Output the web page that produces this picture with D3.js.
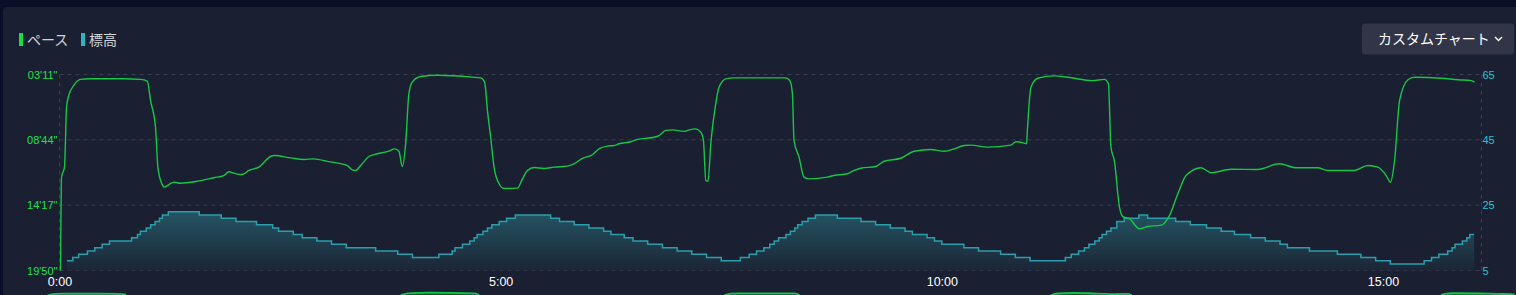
<!DOCTYPE html>
<html>
<head>
<meta charset="utf-8">
<script src="https://cdn.jsdelivr.net/npm/d3@7/dist/d3.min.js"></script>
<style>
  html, body { margin: 0; padding: 0; background: #0a0f27; }
  svg { display: block; font-family: "Noto Sans CJK JP", "Noto Sans", sans-serif; }
</style>
</head>
<body>
<svg id="chart" width="1516" height="295"></svg>
<script>
// legend / button text
var legendLabels = ["ペース", "標高"];
var buttonLabel = "カスタムチャート";

// pace line: elapsed seconds / pace (seconds per km)
var paceTime = [0.7, 1.4, 3.4, 4.8, 6.3, 9.7, 14.3, 21.1, 43.5, 55.1, 59.7, 61.9, 65.3, 66.9, 69.2, 71.4, 74.4, 77.8, 82.3, 93.7,
  105, 111.8, 115.2, 118.6, 123.1, 125.4, 128.8, 135.6, 143.5, 145.8, 157.2, 166.2, 173, 182.1, 195.7, 199.1, 201.4, 204.8, 210.4, 216.1,
  224, 227.9, 230.8, 233.1, 235.4, 237.6, 239.9, 245.6, 256.9, 286.4, 289.1, 291, 293.2, 295.5, 298.9, 302.3, 311.4, 314.8, 318.2, 322.7,
  329.5, 336.3, 345.4, 349.9, 355.6, 362.4, 366.9, 372.6, 377.1, 380.5, 388.5, 393, 404.3, 407.7, 412.3, 416.8, 424.7, 427, 432.7, 436.1,
  437.9, 439.5, 441, 442.9, 445.6, 448.5, 453.1, 458.7, 493.9, 496.8, 498.4, 499.5, 502.9, 506.3, 509.7, 522.2, 526.7, 535.8, 540.4, 544.9,
  555.1, 560.8, 572.1, 581.2, 592.5, 601.6, 608.4, 615.2, 619.7, 631.1, 646.9, 650.4, 654.9, 657.6, 658.3, 660.6, 665.2, 676.5, 685.6, 702.6,
  710.5, 713.3, 715, 717.3, 720.8, 723.1, 727.6, 734.4, 740.1, 749.2, 754.8, 760.5, 766.1, 776.3, 783.1, 796.7, 814.8, 829.5, 840.9, 855.6,
  862.4, 880.6, 889.7, 896.5, 902.2, 905.1, 907.9, 911.3, 917, 921.5, 939.7, 951.1, 960.1, 962.3];
var paceValue = [1190, 714, 663, 358, 298, 247, 216, 213, 213, 216, 225, 323, 460, 663, 740, 765, 752, 740, 745, 735,
  717, 706, 687, 694, 701, 697, 680, 663, 609, 604, 616, 624, 621, 634, 655, 677, 680, 655, 609, 595,
  582, 570, 582, 660, 544, 289, 230, 201, 195, 208, 230, 374, 511, 663, 748, 772, 770, 723, 680, 665,
  670, 663, 658, 646, 618, 600, 570, 556, 553, 544, 534, 522, 511, 502, 476, 473, 481, 476, 468, 485,
  527, 731, 735, 544, 374, 256, 213, 208, 208, 225, 289, 527, 612, 714, 723, 714, 706, 697, 680, 669,
  660, 633, 618, 582, 573, 582, 570, 553, 551, 561, 551, 534, 538, 544, 460, 256, 210, 198, 205, 222,
  216, 238, 561, 629, 867, 915, 926, 977, 966, 959, 910, 799, 706, 666, 692, 674, 675, 646, 666, 666,
  680, 680, 655, 663, 706, 740, 629, 323, 218, 205, 210, 218, 222, 230];

// elevation steps: start second / metres
var elevTime = [5, 9, 13, 19, 24, 29, 34, 49, 53, 55, 59, 62, 65, 68, 70, 74, 95, 110, 120, 134,
  145, 149, 159, 165, 175, 185, 195, 215, 230, 240, 258, 267, 269, 274, 279, 282, 284, 288, 291, 294,
  299, 304, 310, 334, 340, 350, 360, 370, 375, 384, 390, 400, 410, 420, 430, 440, 450, 463, 469, 474,
  479, 483, 486, 489, 494, 497, 500, 502, 505, 509, 514, 529, 545, 555, 565, 575, 580, 590, 595, 600,
  615, 625, 640, 650, 660, 684, 688, 693, 697, 700, 704, 707, 709, 712, 715, 719, 724, 734, 740, 759,
  769, 780, 790, 799, 810, 820, 830, 835, 850, 869, 885, 895, 905, 928, 933, 938, 944, 947, 949, 954,
  957, 959, 962];
var elevValue = [8, 9, 10, 11, 12, 13, 14, 15, 16, 17, 18, 19, 20, 21, 22, 23, 22, 21, 20, 19,
  18, 17, 16, 15, 14, 13, 12, 11, 10, 9, 10, 11, 12, 13, 14, 15, 16, 17, 18, 19,
  20, 21, 22, 21, 20, 19, 18, 17, 16, 15, 14, 13, 12, 11, 10, 9, 8, 9, 10, 11,
  12, 13, 14, 15, 16, 17, 18, 19, 20, 21, 22, 21, 20, 19, 18, 17, 16, 15, 14, 13,
  12, 11, 10, 9, 8, 9, 10, 11, 12, 13, 14, 15, 16, 17, 18, 20, 21, 22, 21, 20,
  19, 18, 17, 16, 15, 14, 13, 12, 11, 10, 9, 8, 7, 8, 9, 10, 11, 12, 13, 14,
  15, 16, 16];

// axes
var paceTicks = [191, 524, 857, 1190];
var elevTicks = [5, 25, 45, 65];
var timeTicks = [0, 300, 600, 900];
var timeMax = 967;

var paceData = paceTime.map(function(t, i) { return {t: t, v: paceValue[i]}; });
var elevData = elevTime.map(function(t, i) { return {t: t, v: elevValue[i]}; });

var svg = d3.select("#chart");
var plotLeft = 59.5, plotRight = 1481.5, plotTop = 74.5, plotBottom = 270.5;

var x = d3.scaleLinear().domain([0, timeMax]).range([plotLeft, plotRight]);
var yPace = d3.scaleLinear().domain([191, 1190]).range([plotTop, plotBottom]);
var yElev = d3.scaleLinear().domain([5, 65]).range([plotBottom, plotTop]);

function fmtPace(s) {
  var m = Math.floor(s / 60), ss = Math.round(s % 60);
  return d3.format("02")(m) + "'" + d3.format("02")(ss) + '"';
}
function fmtTime(s) {
  return Math.floor(s / 60) + ":" + d3.format("02")(s % 60);
}

// panel
svg.append("rect").attr("x", 3).attr("y", 7).attr("width", 1530).attr("height", 300)
  .attr("rx", 4).attr("fill", "#1a1f31");

var defs = svg.append("defs");
var grad = defs.append("linearGradient").attr("id", "elevGrad")
  .attr("gradientUnits", "userSpaceOnUse")
  .attr("x1", 0).attr("x2", 0).attr("y1", yElev(23)).attr("y2", plotBottom);
grad.append("stop").attr("offset", "0").attr("stop-color", "#245563");
grad.append("stop").attr("offset", "1").attr("stop-color", "#1c2536");

// gridlines
svg.append("g").selectAll("line")
  .data(paceTicks)
  .enter().append("line")
    .attr("x1", plotLeft).attr("x2", plotRight)
    .attr("y1", function(d) { return yPace(d); })
    .attr("y2", function(d) { return yPace(d); })
    .attr("stroke", "#383d4f").attr("stroke-width", 1)
    .attr("stroke-dasharray", "4,4");

// left / right dotted axis lines
[plotLeft, plotRight].forEach(function(px) {
  svg.append("line").attr("x1", px).attr("x2", px).attr("y1", plotTop).attr("y2", plotBottom)
    .attr("stroke", "#383d4f").attr("stroke-width", 1).attr("stroke-dasharray", "4,4");
});

// elevation area + line
var elevArea = d3.area().curve(d3.curveStepAfter)
  .x(function(d) { return x(d.t); })
  .y0(plotBottom)
  .y1(function(d) { return yElev(d.v); });
var elevLine = d3.line().curve(d3.curveStepAfter)
  .x(function(d) { return x(d.t); })
  .y(function(d) { return yElev(d.v); });

svg.append("path").datum(elevData).attr("d", elevArea).attr("fill", "url(#elevGrad)");
svg.append("path").datum(elevData).attr("d", elevLine)
  .attr("fill", "none").attr("stroke", "#2a9eab").attr("stroke-width", 1.5);

// pace line
var paceLine = d3.line().curve(d3.curveMonotoneX)
  .x(function(d) { return x(d.t); })
  .y(function(d) { return yPace(d.v); });
svg.append("path").datum(paceData).attr("d", paceLine)
  .attr("fill", "none").attr("stroke", "#14c846").attr("stroke-width", 1.4);

// left axis (pace)
svg.append("g").attr("transform", "translate(" + (plotLeft - 2) + ",0)")
  .call(d3.axisLeft(yPace).tickValues(paceTicks).tickFormat(fmtPace).tickSize(0).tickPadding(0))
  .call(function(g) { g.select(".domain").remove(); })
  .selectAll("text")
    .attr("fill", "#19e04d").style("font-size", "11px");

// right axis (elevation)
svg.append("g").attr("transform", "translate(" + (plotRight + 1) + ",0)")
  .call(d3.axisRight(yElev).tickValues(elevTicks).tickSize(0).tickPadding(0))
  .call(function(g) { g.select(".domain").remove(); })
  .selectAll("text")
    .attr("fill", "#2cc2cf").style("font-size", "11px");

// x axis
svg.append("g").attr("transform", "translate(0," + (plotBottom + 1) + ")")
  .call(d3.axisBottom(x).tickValues(timeTicks).tickFormat(fmtTime).tickSize(0).tickPadding(6))
  .call(function(g) { g.select(".domain").remove(); })
  .selectAll("text")
    .attr("fill", "#ffffff").style("font-size", "12.5px");

// legend
var legendColors = ["#14e046", "#2bb6c2"];
var legendX = [19, 81];
legendLabels.forEach(function(l, i) {
  svg.append("rect").attr("x", legendX[i]).attr("y", 33).attr("width", 4).attr("height", 13)
    .attr("fill", legendColors[i]);
  svg.append("text").attr("x", legendX[i] + 8).attr("y", 40).attr("dy", "0.35em")
    .attr("fill", "#d2d4dc").style("font-size", "14px").text(l);
});

// button
svg.append("rect").attr("x", 1362).attr("y", 23.5).attr("width", 152).attr("height", 31)
  .attr("rx", 3).attr("fill", "#313547");
svg.append("text").attr("x", 1378).attr("y", 39).attr("dy", "0.35em")
  .attr("fill", "#ffffff").style("font-size", "14px").text(buttonLabel);
svg.append("path").attr("d", "M1495,37 L1498.5,40.5 L1502,37")
  .attr("fill", "none").attr("stroke", "#ffffff").attr("stroke-width", 1.5);

// mini preview below (mostly cut off)
var xMini = d3.scaleLinear().domain([0, timeMax]).range([33, 1522]);
var yMini = d3.scaleLinear().domain([191, 1190]).range([292.5, 345]);
var miniArea = d3.area().curve(d3.curveMonotoneX)
  .x(function(d) { return xMini(d.t); })
  .y0(345)
  .y1(function(d) { return yMini(d.v); });
var miniLine = d3.line().curve(d3.curveMonotoneX)
  .x(function(d) { return xMini(d.t); })
  .y(function(d) { return yMini(d.v); });
svg.append("path").datum(paceData).attr("d", miniArea).attr("fill", "rgba(20,200,70,0.3)");
svg.append("path").datum(paceData).attr("d", miniLine)
  .attr("fill", "none").attr("stroke", "#14c846").attr("stroke-width", 1.8);
</script>
</body>
</html>
